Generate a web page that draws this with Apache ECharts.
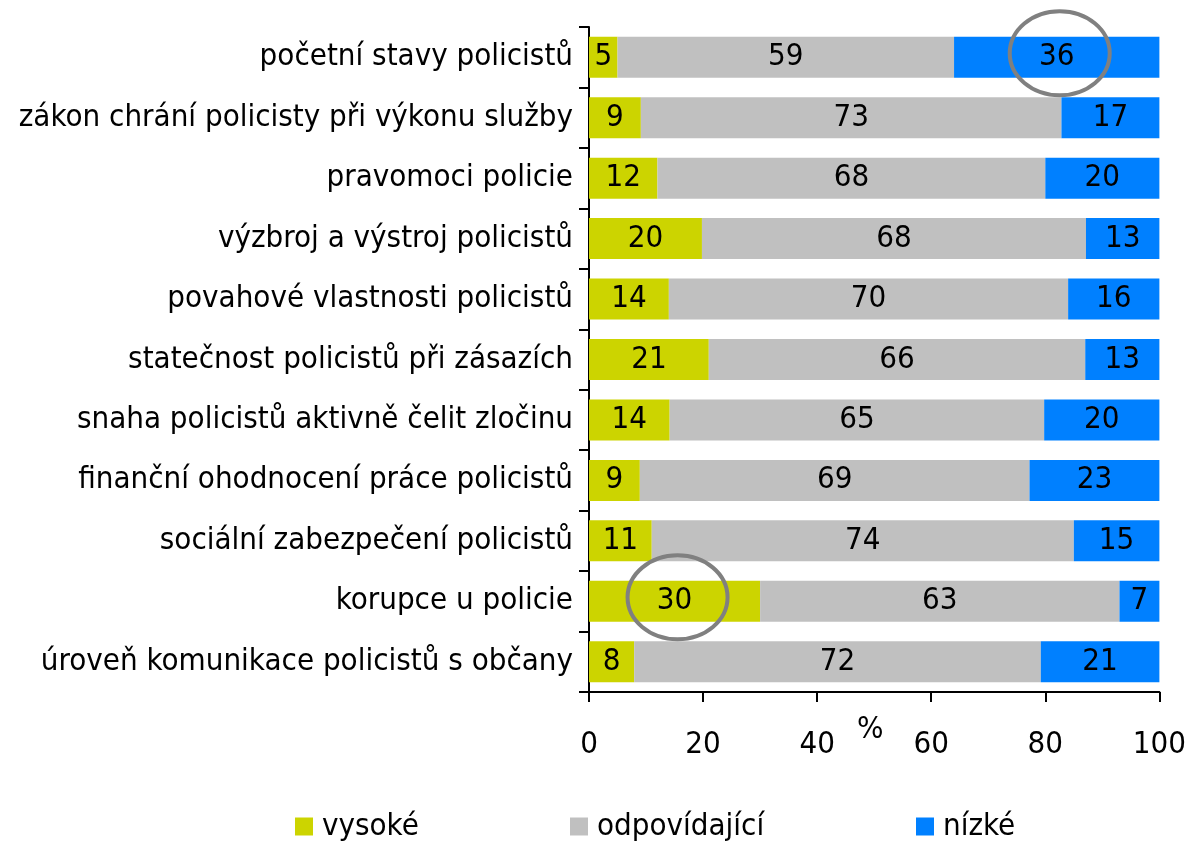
<!DOCTYPE html>
<html>
<head>
<meta charset="utf-8">
<script src="https://cdn.jsdelivr.net/npm/echarts@6/dist/echarts.min.js"></script>
<style>
html,body{margin:0;padding:0;background:#fff;}
#chart{width:1189px;height:842px;}
</style>
</head>
<body>
<div id="chart"></div>
<script>
const categories = [
  'početní stavy policistů',
  'zákon chrání policisty při výkonu služby',
  'pravomoci policie',
  'výzbroj a výstroj policistů',
  'povahové vlastnosti policistů',
  'statečnost policistů při zásazích',
  'snaha policistů aktivně čelit zločinu',
  'finanční ohodnocení práce policistů',
  'sociální zabezpečení policistů',
  'korupce u policie',
  'úroveň komunikace policistů s občany'
];
const vysoke = [5, 9, 12, 20, 14, 21, 14, 9, 11, 30, 8];
const odpovidajici = [59, 73, 68, 68, 70, 66, 65, 69, 74, 63, 72];
const nizke = [36, 17, 20, 13, 16, 13, 20, 23, 15, 7, 21];
const seriesNames = ['vysoké', 'odpovídající', 'nízké'];
const xTicks = [0, 20, 40, 60, 80, 100];
// highlighted cells: [series index, category index]
const highlights = [[2, 0], [0, 9]];

const raw = [vysoke, odpovidajici, nizke];
const totals = categories.map((c, i) => vysoke[i] + odpovidajici[i] + nizke[i]);
const shares = raw.map(arr => arr.map((v, i) => v / totals[i] * 100));
const colors = ['#CCD400', '#C0C0C0', '#0080FF'];
const FONT = '"DejaVu Sans Condensed", "DejaVu Sans", sans-serif';
const FS = 31;

const chart = echarts.init(document.getElementById('chart'), null, {renderer: 'canvas'});

const legendLefts = [295, 570, 916];

const option = {
  animation: false,
  backgroundColor: '#ffffff',
  textStyle: {fontFamily: FONT, color: '#000'},
  grid: {left: 589, right: 29, top: 27, bottom: 150, containLabel: false},
  legend: seriesNames.map((n, k) => ({
    data: [n],
    left: legendLefts[k],
    top: 811,
    padding: 0,
    icon: 'rect',
    itemWidth: 18,
    itemHeight: 18,
    textStyle: {fontFamily: FONT, fontSize: FS, color: '#000', padding: [0, 0, 0, 4]}
  })),
  xAxis: {
    type: 'value',
    min: 0,
    max: 100,
    interval: 20,
    name: '%',
    nameLocation: 'middle',
    nameGap: 22,
    nameMoveOverlap: false,
    nameTextStyle: {fontFamily: FONT, fontSize: FS, color: '#000', padding: [0, 8, 0, 0]},
    axisLine: {show: true, lineStyle: {color: '#000', width: 2}},
    axisTick: {show: true, length: 10, lineStyle: {color: '#000', width: 2}},
    splitLine: {show: false},
    axisLabel: {
      fontFamily: FONT, fontSize: FS, color: '#000', margin: 37,
      formatter: v => xTicks.includes(v) ? String(v) : ''
    }
  },
  yAxis: {
    type: 'category',
    data: categories,
    inverse: true,
    axisLine: {show: true, lineStyle: {color: '#000', width: 2}},
    axisTick: {show: true, length: 10, lineStyle: {color: '#000', width: 2}},
    axisLabel: {fontFamily: FONT, fontSize: FS, color: '#000', margin: 16}
  },
  series: seriesNames.map((n, k) => ({
    name: n,
    type: 'bar',
    stack: 'total',
    barWidth: 41,
    itemStyle: {color: colors[k]},
    label: {
      show: true,
      position: 'inside',
      fontFamily: FONT,
      fontSize: FS,
      color: '#000',
      formatter: p => String(raw[k][p.dataIndex])
    },
    data: shares[k]
  }))
};

chart.setOption(option);

// annotation ellipses around highlighted values, positioned from data
function segCenter(k, i) {
  let start = 0;
  for (let j = 0; j < k; j++) start += shares[j][i];
  return start + shares[k][i] / 2;
}
const graphics = highlights.map(([k, i]) => {
  const p = chart.convertToPixel({gridIndex: 0}, [segCenter(k, i), categories[i]]);
  return {
    type: 'ellipse',
    shape: {cx: p[0] + 3, cy: p[1] - 4, rx: 50, ry: 42},
    style: {fill: 'none', stroke: '#808080', lineWidth: 4},
    z: 100
  };
});
chart.setOption({graphic: graphics});
</script>
</body>
</html>
